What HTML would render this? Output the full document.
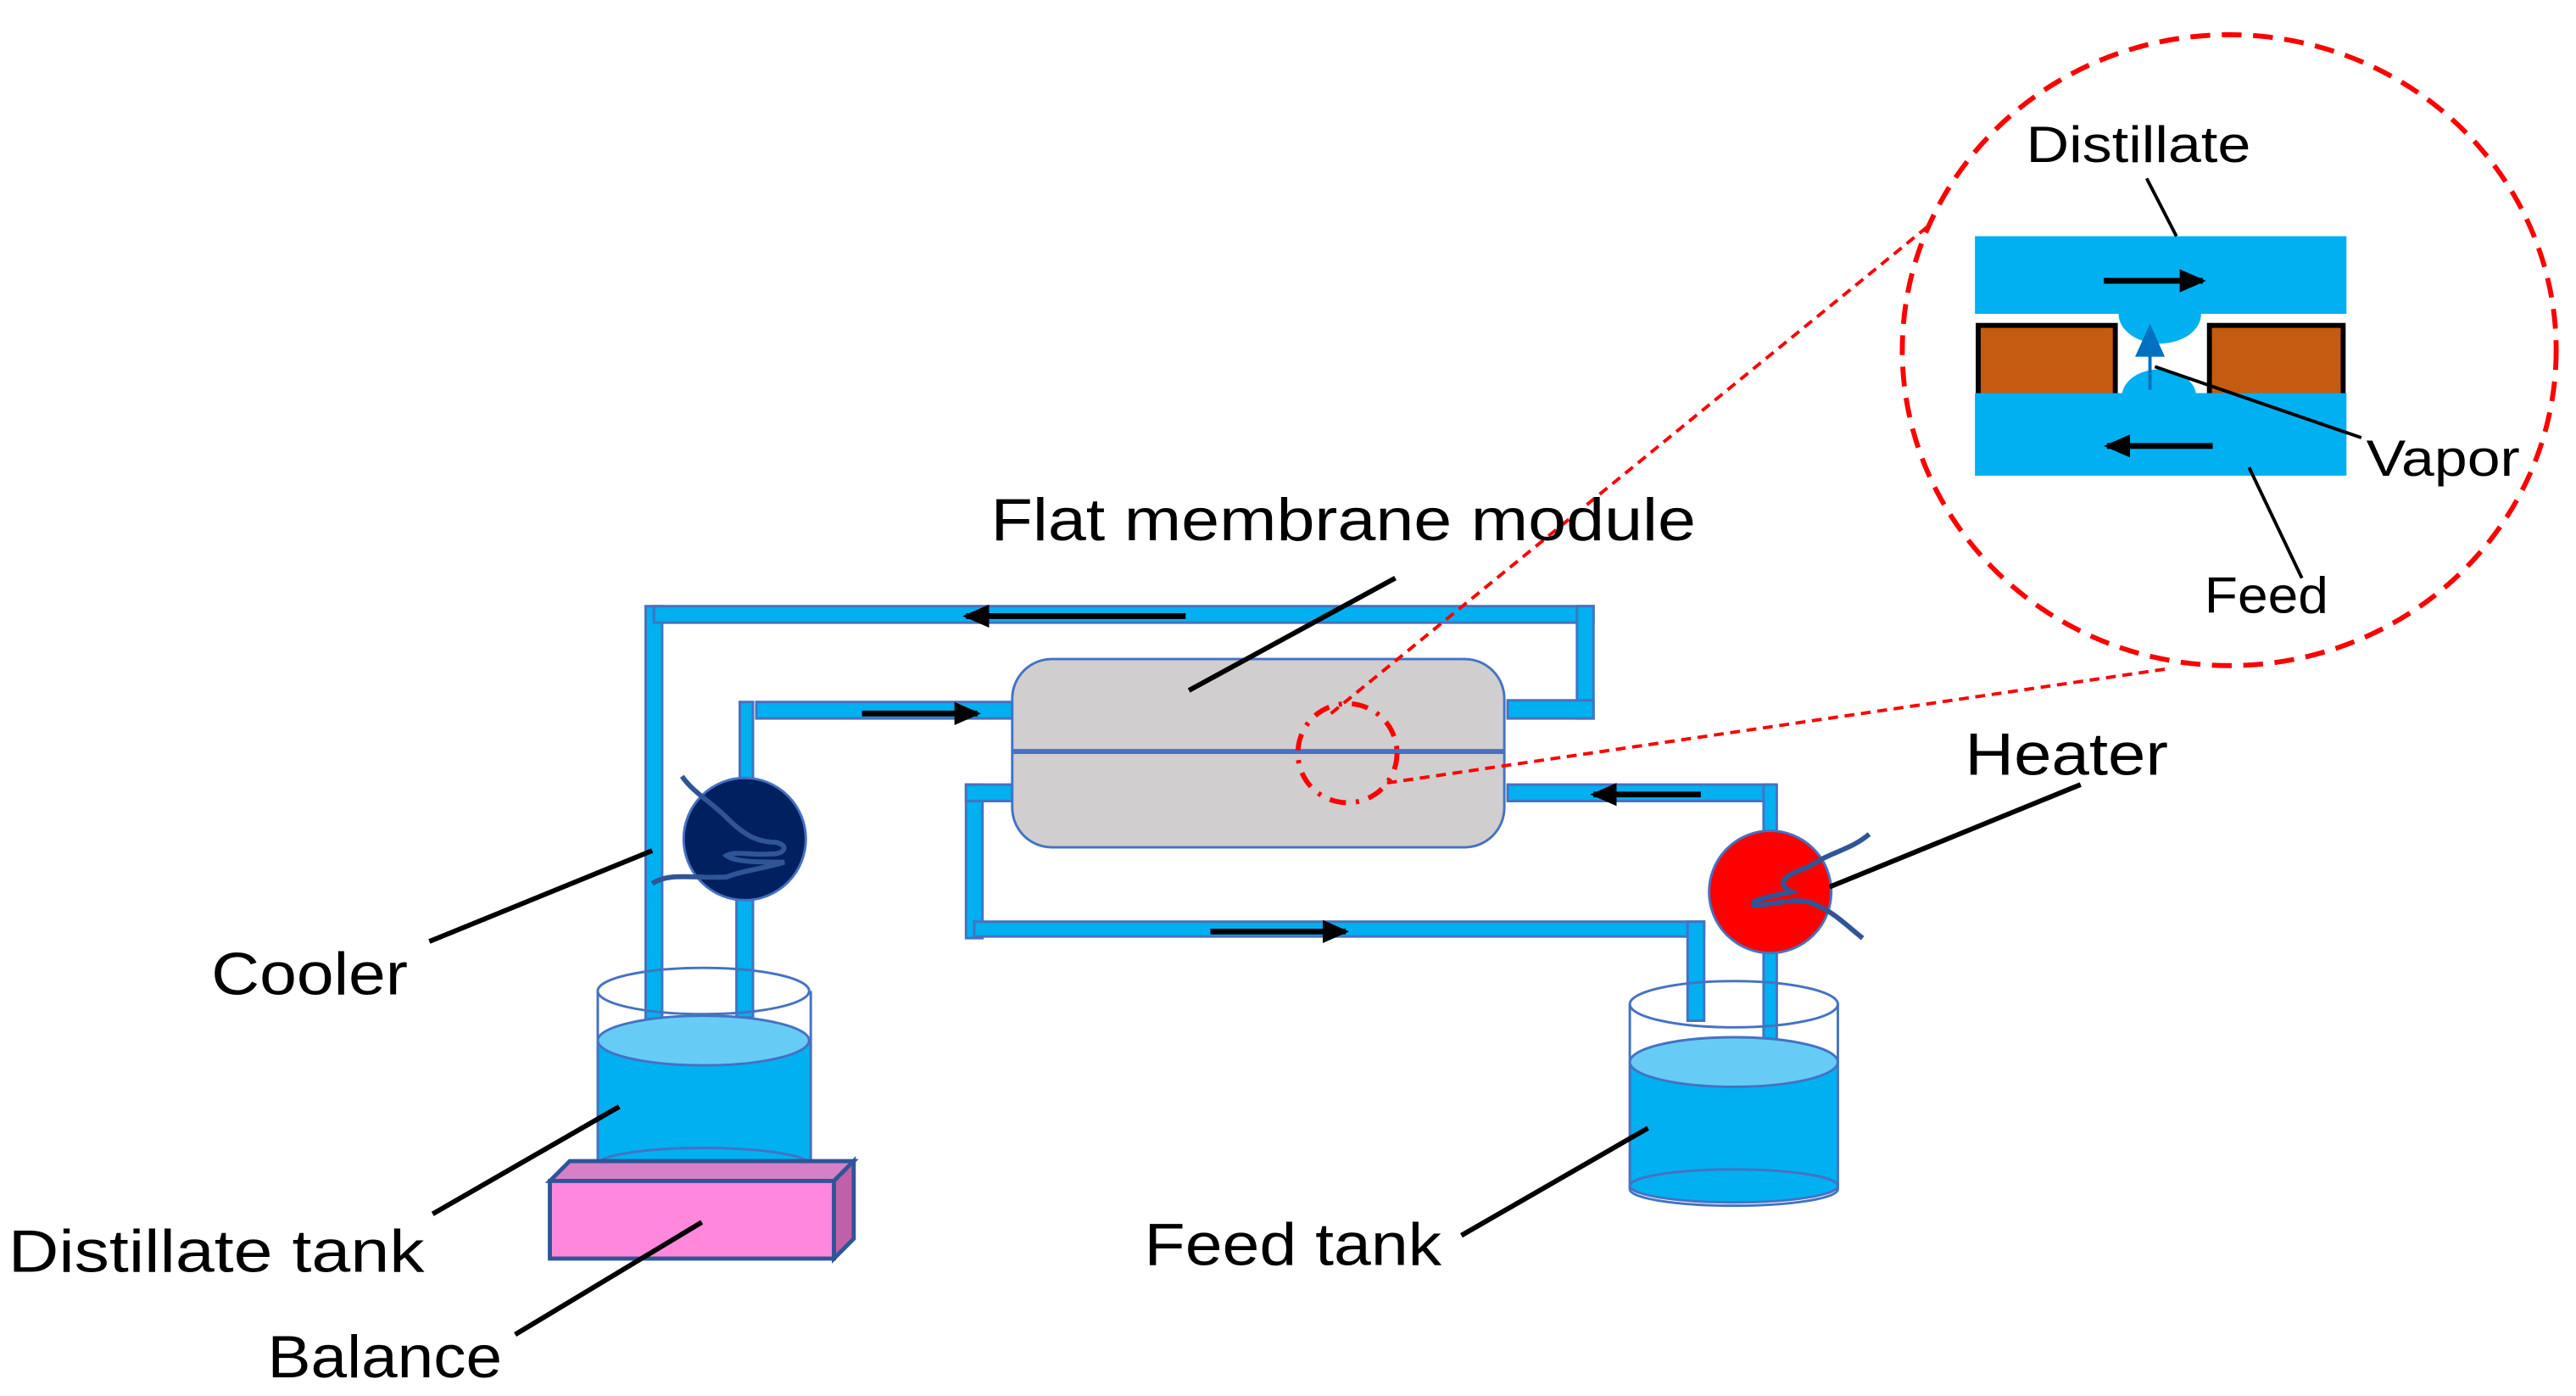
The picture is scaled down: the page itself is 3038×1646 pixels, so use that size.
<!DOCTYPE html>
<html><head><meta charset="utf-8"><style>html,body{margin:0;padding:0;background:#fff}svg{display:block}</style></head>
<body>
<svg width="3038" height="1646" viewBox="0 0 1560 845.2" xmlns="http://www.w3.org/2000/svg" font-family="Liberation Sans, sans-serif">
<defs>
<marker id="ah" markerWidth="16" markerHeight="14" refX="14" refY="7" orient="auto" markerUnits="userSpaceOnUse" viewBox="0 0 16 14"><path d="M0,0 L16,7 L0,14z" fill="#000"/></marker>
</defs>
<g fill="#00b0f0" stroke="#4472c4" stroke-width="1.5">
<rect x="391" y="367" width="10" height="250"/>
<rect x="396" y="367" width="569" height="10"/>
<rect x="955" y="367" width="10" height="68"/>
<rect x="913" y="424" width="52" height="11"/>
<rect x="448" y="425" width="8" height="48"/>
<rect x="458" y="425" width="156" height="10"/>
<rect x="446" y="543" width="10" height="73"/>
<rect x="585" y="475" width="10" height="93"/>
<rect x="585" y="475" width="28" height="10"/>
<rect x="590" y="558" width="442" height="9"/>
<rect x="1022" y="558" width="10" height="60"/>
<rect x="913" y="475" width="162" height="10"/>
<rect x="1068" y="475" width="8" height="30"/>
<rect x="1068" y="575" width="8" height="55"/>
</g>
<rect x="613" y="399" width="298" height="114" rx="24" fill="#d0cece" stroke="#4472c4" stroke-width="1.5"/>
<line x1="613" y1="455" x2="911" y2="455" stroke="#4472c4" stroke-width="3"/>
<g stroke="#000" stroke-width="3.5" marker-end="url(#ah)">
<line x1="718" y1="373" x2="585" y2="373"/>
<line x1="522" y1="432" x2="592" y2="432"/>
<line x1="733" y1="564" x2="815" y2="564"/>
<line x1="1030" y1="481" x2="965" y2="481"/>
</g>
<ellipse cx="451" cy="508" rx="37" ry="37" fill="#002060" stroke="#4472c4" stroke-width="1.5"/>
<path d="M413,470 C420,480 430,485 440,495 C450,505 458,510 470,510 C478,512 475,517 468,517 C455,518 445,515 440,518 C445,522 460,522 475,522 C462,526 450,527 440,531 C420,532 405,528 395,535" fill="none" stroke="#2f5597" stroke-width="3"/>
<circle cx="1072" cy="540" r="37" fill="#ff0000" stroke="#4472c4" stroke-width="1.5"/>
<path d="M1132,505 C1120,515 1110,515 1095,525 C1080,530 1075,535 1085,540 C1070,543 1060,545 1062,548 C1075,548 1090,542 1100,548 C1110,552 1118,560 1128,568" fill="none" stroke="#2f5597" stroke-width="3"/>
<g stroke="#4472c4" stroke-width="1.5">
<rect x="362" y="630" width="129" height="75" fill="#00b0f0" stroke="none"/>
<line x1="362" y1="600" x2="362" y2="705"/><line x1="491" y1="600" x2="491" y2="705"/>
<ellipse cx="426" cy="600" rx="64" ry="14" fill="none"/>
<ellipse cx="426" cy="705" rx="64" ry="10" fill="#00b0f0"/>
<ellipse cx="426" cy="630" rx="64" ry="15" fill="#66ccf5"/>
</g>
<g stroke="#2f5597" stroke-width="2.5">
<path d="M333,715 L345,703 L517,703 L505,715z" fill="#d680c8"/>
<path d="M505,715 L517,703 L517,750 L505,762z" fill="#c060a8"/>
<rect x="333" y="715" width="172" height="47" fill="#ff88dd"/>
</g>
<g stroke="#4472c4" stroke-width="1.5">
<rect x="987" y="643" width="126" height="77" fill="#00b0f0" stroke="none"/>
<line x1="987" y1="608" x2="987" y2="720"/><line x1="1113" y1="608" x2="1113" y2="720"/>
<ellipse cx="1050" cy="608" rx="63" ry="14" fill="none"/>
<ellipse cx="1050" cy="718" rx="63" ry="10" fill="#00b0f0"/>
<path d="M987,720 A63,10 0 0 0 1113,720" fill="none"/>
<ellipse cx="1050" cy="643" rx="63" ry="15" fill="#66ccf5"/>
</g>
<ellipse cx="816" cy="456" rx="30" ry="30" fill="none" stroke="#ff0000" stroke-width="3" stroke-dasharray="10,6,2,6"/>
<g stroke="#ff0000" stroke-width="2" stroke-dasharray="6,4" fill="none">
<line x1="806" y1="432" x2="1170" y2="135"/>
<line x1="840" y1="474" x2="1312" y2="405"/>
</g>
<ellipse cx="1350" cy="212" rx="198" ry="191" fill="none" stroke="#ff0000" stroke-width="3" stroke-dasharray="12,7"/>
<rect x="1196" y="143" width="225" height="47" fill="#00b0f0"/>
<rect x="1198" y="197" width="83" height="44" fill="#c55a11" stroke="#000" stroke-width="3"/>
<rect x="1338" y="197" width="81" height="44" fill="#c55a11" stroke="#000" stroke-width="3"/>
<rect x="1196" y="238" width="225" height="50" fill="#00b0f0"/>
<path d="M1283,190 A25,18 0 0 0 1333,190z" fill="#00b0f0"/>
<path d="M1285,240 A22,16 0 0 1 1330,240z" fill="#00b0f0"/>
<line x1="1302" y1="236" x2="1302" y2="210" stroke="#0070c0" stroke-width="2"/>
<path d="M1293,216 L1302,196 L1311,216z" fill="#0070c0"/>
<g stroke="#000" stroke-width="3.5" marker-end="url(#ah)">
<line x1="1274" y1="170" x2="1334" y2="170"/>
<line x1="1340" y1="270" x2="1276" y2="270"/>
</g>
<g stroke="#000" stroke-width="2">
<line x1="1300" y1="108" x2="1318" y2="143"/>
<line x1="1305" y1="222" x2="1430" y2="265"/>
<line x1="1362" y1="283" x2="1394" y2="350"/>
</g>
<g stroke="#000" stroke-width="3">
<line x1="720" y1="418" x2="845" y2="350"/>
<line x1="1108" y1="537" x2="1260" y2="475"/>
<line x1="260" y1="570" x2="395" y2="515"/>
<line x1="262" y1="735" x2="375" y2="670"/>
<line x1="312" y1="808" x2="425" y2="740"/>
<line x1="885" y1="748" x2="998" y2="683"/>
</g>
<g fill="#000" font-size="36">
<text x="600" y="327" textLength="427" lengthAdjust="spacingAndGlyphs">Flat membrane module</text>
<text x="1190" y="469" textLength="123" lengthAdjust="spacingAndGlyphs">Heater</text>
<text x="128" y="602" textLength="119" lengthAdjust="spacingAndGlyphs">Cooler</text>
<text x="5" y="770" textLength="252" lengthAdjust="spacingAndGlyphs">Distillate tank</text>
<text x="162" y="834" textLength="142" lengthAdjust="spacingAndGlyphs">Balance</text>
<text x="693" y="766" textLength="180" lengthAdjust="spacingAndGlyphs">Feed tank</text>
</g>
<g fill="#000" font-size="31">
<text x="1227" y="98" textLength="136" lengthAdjust="spacingAndGlyphs">Distillate</text>
<text x="1433" y="288" textLength="93" lengthAdjust="spacingAndGlyphs">Vapor</text>
<text x="1335" y="371" textLength="75" lengthAdjust="spacingAndGlyphs">Feed</text>
</g>
</svg>
</body></html>
